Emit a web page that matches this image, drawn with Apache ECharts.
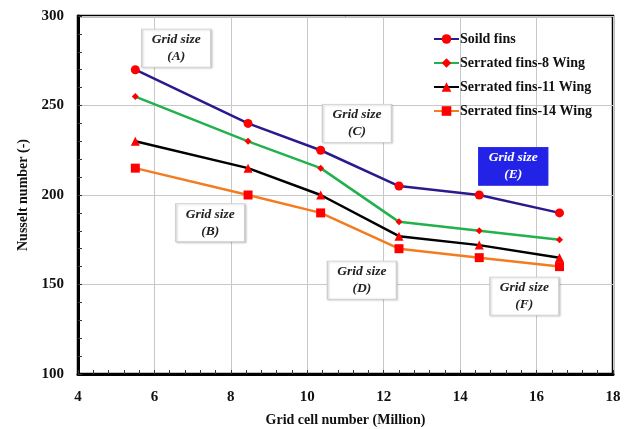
<!DOCTYPE html>
<html>
<head>
<meta charset="utf-8">
<script src="https://cdn.jsdelivr.net/npm/echarts@6/dist/echarts.min.js"></script>
<style>
  html, body { margin: 0; padding: 0; background: #fff; }
  #chart { width: 630px; height: 429px; }
</style>
</head>
<body>
<div id="chart"></div>
<script>
// Grid cell count (million) for each mesh
const gridCells = [5.5, 8.45, 10.35, 12.4, 14.5, 16.6];

// Nusselt number per fin configuration
const soildFins = [270, 240, 225, 205, 200, 190];
const serrated8 = [255, 230, 215, 185, 180, 175];
const serrated11 = [230, 215, 200, 177, 172, 165];
const serrated14 = [215, 200, 190, 170, 165, 160];

const seriesNames = ['Soild fins', 'Serrated fins-8 Wing', 'Serrated fins-11 Wing', 'Serrated fins-14 Wing'];
const meshLabels = ['A', 'B', 'C', 'D', 'E', 'F'];

// Where each mesh callout sits, in axis units
const calloutX = [6.57, 7.46, 11.3, 11.43, 15.39, 15.68];
const calloutY = [282, 184.5, 240, 152.5, 216, 143.5];

const serif = '"Liberation Serif", "DejaVu Serif", serif';
const red = '#ff0000';

function pairs(ys) {
  return gridCells.map((x, i) => [x, ys[i]]);
}

function lineSeries(name, ys, color, symbol, size) {
  return {
    name: name,
    type: 'line',
    data: pairs(ys),
    symbol: symbol,
    symbolSize: size,
    lineStyle: { color: color, width: 2.5 },
    itemStyle: { color: red, borderWidth: 0 },
    emphasis: { disabled: true },
    z: 3
  };
}

const callouts = meshLabels.map((m, i) => {
  const filled = m === 'E';
  return {
    coord: [calloutX[i], calloutY[i]],
    symbol: 'rect',
    symbolSize: [69, 38],
    itemStyle: filled
      ? { color: '#2323e8', borderColor: '#2323e8', borderWidth: 1 }
      : { color: '#ffffff', borderColor: '#cfcfcf', borderWidth: 1,
          shadowColor: 'rgba(0,0,0,0.18)', shadowBlur: 2, shadowOffsetX: 1, shadowOffsetY: 1 },
    label: {
      show: true,
      position: 'inside',
      formatter: 'Grid size\n(' + m + ')',
      color: filled ? '#ffffff' : '#222222',
      fontFamily: serif,
      fontStyle: 'italic',
      fontWeight: 'bold',
      fontSize: 13.5,
      lineHeight: 17,
      align: 'center'
    }
  };
});

const chart = echarts.init(document.getElementById('chart'), null, { renderer: 'canvas' });

const tickStyle = { color: '#333', width: 1 };

chart.setOption({
  animation: false,
  backgroundColor: '#ffffff',
  grid: {
    left: 78, top: 16, right: 17, bottom: 55,
    outerBoundsMode: 'none',
    show: true, borderColor: '#000', borderWidth: 2.5, backgroundColor: 'transparent'
  },
  legend: {
    data: seriesNames,
    orient: 'vertical',
    left: 428,
    top: 27,
    itemWidth: 25,
    itemHeight: 12,
    itemGap: 10,
    textStyle: { fontFamily: serif, fontWeight: 'bold', fontSize: 14, color: '#111', padding: [0, 0, 0, -4] }
  },
  xAxis: {
    type: 'value',
    min: 4, max: 18, interval: 2,
    name: 'Grid cell number (Million)',
    nameLocation: 'middle',
    nameGap: 39,
    nameTextStyle: { fontFamily: serif, fontWeight: 'bold', fontSize: 14, color: '#111' },
    axisLine: { show: true, onZero: false, lineStyle: { color: '#000', width: 3 } },
    axisTick: { show: true, inside: true, length: 4, lineStyle: tickStyle },
    minorTick: { show: true, splitNumber: 5, length: 4, lineStyle: tickStyle },
    axisLabel: { fontFamily: serif, fontWeight: 'bold', fontSize: 15, color: '#111', margin: 16 },
    splitLine: { show: true, lineStyle: { color: '#c8c8c8', width: 1 } },
    minorSplitLine: { show: false }
  },
  yAxis: {
    type: 'value',
    min: 100, max: 300, interval: 50,
    name: 'Nusselt number (-)',
    nameLocation: 'middle',
    nameGap: 48,
    nameTextStyle: { fontFamily: serif, fontWeight: 'bold', fontSize: 14, color: '#111' },
    axisLine: { show: true, onZero: false, lineStyle: { color: '#000', width: 3 } },
    axisTick: { show: true, inside: true, length: 4, lineStyle: tickStyle },
    minorTick: { show: true, splitNumber: 5, length: 4, lineStyle: tickStyle },
    axisLabel: { fontFamily: serif, fontWeight: 'bold', fontSize: 15, color: '#111', margin: 14 },
    splitLine: { show: true, lineStyle: { color: '#c8c8c8', width: 1 } }
  },
  series: [
    lineSeries(seriesNames[0], soildFins, '#2b1a8e', 'circle', 9),
    lineSeries(seriesNames[1], serrated8, '#22b14c', 'diamond', 7),
    lineSeries(seriesNames[2], serrated11, '#000000', 'triangle', 9),
    lineSeries(seriesNames[3], serrated14, '#f47b20', 'rect', 9),
    {
      name: 'callouts',
      type: 'scatter',
      data: [],
      silent: true,
      markPoint: { silent: true, data: callouts, z: 5 }
    }
  ]
});
</script>
</body>
</html>
